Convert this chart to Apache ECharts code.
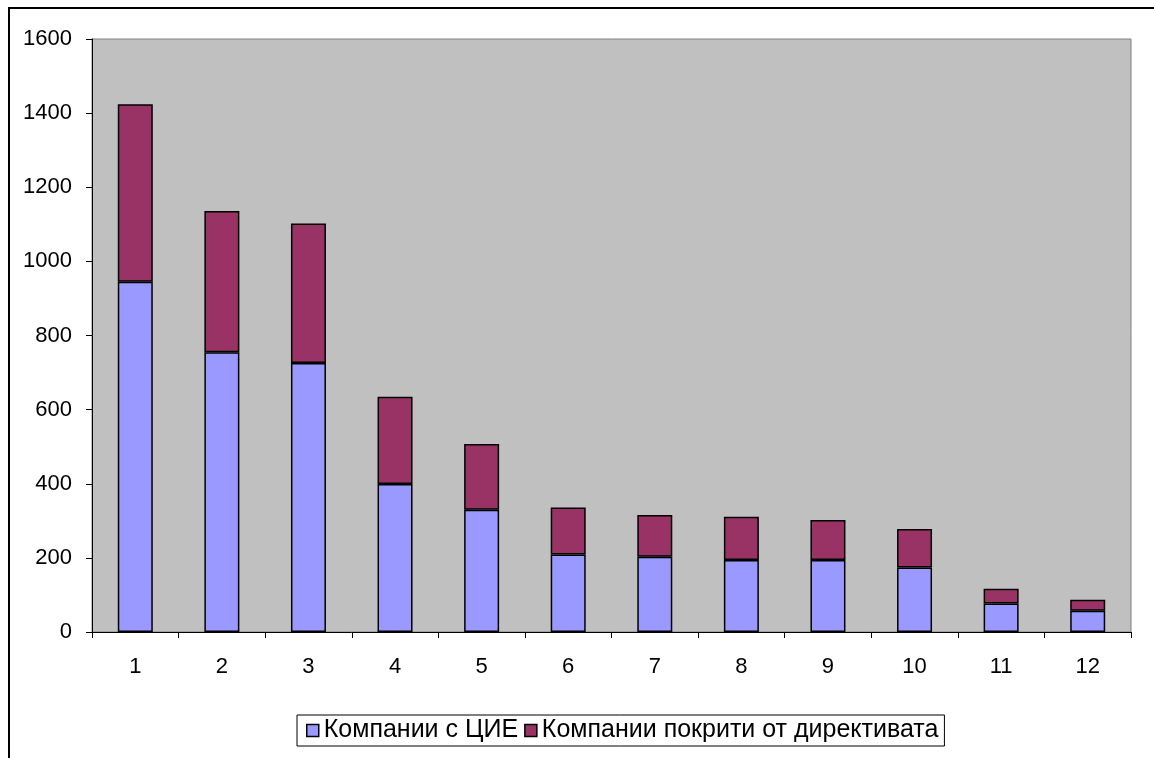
<!DOCTYPE html>
<html>
<head>
<meta charset="utf-8">
<script src="https://cdn.jsdelivr.net/npm/echarts@6/dist/echarts.min.js"></script>
<style>
html,body{margin:0;padding:0;background:#fff;}
#c{width:1154px;height:758px;}
</style>
</head>
<body>
<div id="c"></div>
<script>
var categories = ['1','2','3','4','5','6','7','8','9','10','11','12'];
var seriesNames = ['Компании с ЦИЕ', 'Компании покрити от директивата'];
var companiesCIE = [945, 755, 726, 399, 330, 209, 203, 194, 194, 174, 77, 57];
var companiesDirective = [479, 381, 376, 236, 177, 127, 113, 117, 108, 104, 40, 30];
var yTicks = {min: 0, max: 1600, interval: 200};

var FONT = '"Liberation Sans", Arial, sans-serif';
var chart = echarts.init(document.getElementById('c'), null, {renderer: 'canvas'});
chart.setOption({
  animation: false,
  backgroundColor: '#ffffff',
  textStyle: {fontFamily: FONT},
  graphic: [{
    type: 'rect',
    shape: {x: 9, y: 8, width: 1160, height: 770},
    style: {fill: 'none', stroke: '#000', lineWidth: 2},
    silent: true
  }],
  grid: {
    left: 92, right: 23, top: 39, bottom: 126,
    show: true, backgroundColor: '#C0C0C0', borderColor: '#808080', borderWidth: 1
  },
  legend: {
    left: 297, top: 715,
    itemWidth: 12, itemHeight: 12, itemGap: 6,
    padding: [3, 6, 3, 9],
    borderColor: '#000', borderWidth: 1,
    icon: 'rect',
    itemStyle: {borderColor: '#000', borderWidth: 1.5},
    textStyle: {fontSize: 25, color: '#000', fontFamily: FONT, padding: [0, 0, 0, 0]},
    data: seriesNames
  },
  xAxis: {
    type: 'category',
    data: categories,
    boundaryGap: true,
    axisLine: {lineStyle: {color: '#000', width: 1}},
    axisTick: {show: true, length: 6, inside: false, alignWithLabel: false, lineStyle: {color: '#000'}},
    axisLabel: {fontSize: 22, color: '#000', margin: 24, fontFamily: FONT},
    splitLine: {show: false}
  },
  yAxis: {
    type: 'value',
    min: yTicks.min, max: yTicks.max, interval: yTicks.interval,
    axisLine: {show: true, lineStyle: {color: '#000', width: 1}},
    axisTick: {show: true, length: 6, inside: false, lineStyle: {color: '#000'}},
    axisLabel: {fontSize: 22, color: '#000', margin: 20, fontFamily: FONT,
      formatter: function (v) { return String(v); }},
    splitLine: {show: false}
  },
  series: [{
    name: seriesNames[0],
    type: 'bar',
    stack: 'total',
    data: companiesCIE,
    barWidth: 35,
    itemStyle: {color: '#9999FF', borderColor: '#000', borderWidth: 1.5}
  }, {
    name: seriesNames[1],
    type: 'bar',
    stack: 'total',
    data: companiesDirective,
    barWidth: 35,
    itemStyle: {color: '#993366', borderColor: '#000', borderWidth: 1.5}
  }]
});
</script>
</body>
</html>
